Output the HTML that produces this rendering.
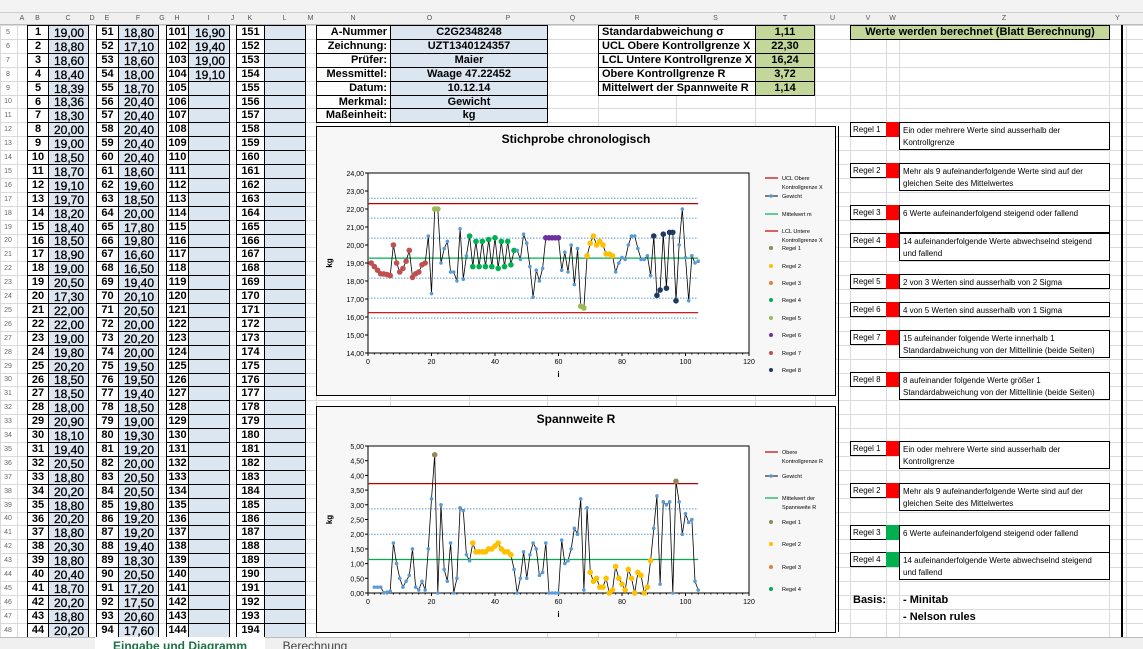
<!DOCTYPE html>
<html><head><meta charset="utf-8">
<style>
body{margin:0;width:1143px;height:649px;overflow:hidden;background:#fff;font-family:"Liberation Sans",sans-serif;position:relative}
.a{position:absolute;box-sizing:border-box}
.c{position:absolute;box-sizing:border-box;border:1px solid #000;font-weight:bold;font-size:12px;display:flex;align-items:center;justify-content:center;line-height:1}
.v{background:#dce6f1;justify-content:flex-end;padding-right:4px}
.hd{position:absolute;top:13px;height:12px;font-size:7px;color:#555;text-align:center;line-height:12px}
.rb{position:absolute;font-size:8px;border:1px solid #000;background:#fff;box-sizing:border-box;padding:2px 3px;line-height:12px}
</style></head><body>
<div class="a" style="left:0;top:0;width:1143px;height:13px;background:#f3f3f3;border-bottom:1px solid #ccc"></div>
<div class="a" style="left:0;top:13px;width:1143px;height:12px;background:#f0f0f0;border-bottom:1px solid #bbb"></div>
<svg class="a" id="grid" style="left:0;top:25px" width="1143" height="612"></svg>
<div id="cells"></div>
<svg class="a" id="c1" style="left:316px;top:126px" width="520" height="270"></svg>
<svg class="a" id="c2" style="left:316px;top:406px" width="520" height="227"></svg>
<div class="a" style="left:0;top:637px;width:1143px;height:12px;background:#f0f0f0;border-top:1px solid #bbb"></div>
<div class="a" style="left:95px;top:637px;width:170px;height:12px;background:#fff;color:#1e7145;font-weight:bold;font-size:12px;text-align:center;line-height:18px;overflow:hidden">Eingabe und Diagramm</div>
<div class="a" style="left:270px;top:637px;width:90px;height:12px;font-size:12px;text-align:center;line-height:18px;overflow:hidden;color:#444">Berechnung</div>
<script>
const weights=[19.00,18.80,18.60,18.40,18.39,18.36,18.30,20.00,19.00,18.50,18.70,19.10,19.70,18.20,18.40,18.50,18.90,19.00,20.50,17.30,22.00,22.00,19.00,19.80,20.20,18.50,18.50,18.00,20.90,18.10,19.40,20.50,18.80,20.20,18.80,20.20,18.80,20.30,18.80,20.40,18.70,20.20,18.80,20.20,18.90,19.70,19.70,19.20,20.60,20.10,
18.80,17.10,18.60,18.00,18.70,20.40,20.40,20.40,20.40,20.40,18.60,19.60,18.50,20.00,17.80,19.80,16.60,16.50,19.40,20.10,20.50,20.00,20.20,20.00,19.50,19.50,19.40,18.50,19.00,19.30,19.20,20.00,20.50,20.50,19.80,19.20,19.20,19.40,18.30,20.50,17.20,17.50,20.60,17.60,20.70,20.70,16.90,20.00,22.00,19.30,
16.90,19.40,19.00,19.10];
const ranges=[0.20,0.20,0.20,0.01,0.03,0.06,1.70,1.00,0.50,0.20,0.40,0.60,1.50,0.20,0.10,0.40,0.10,1.50,3.20,4.70,0,3.00,0.80,0.40,1.70,0,0.50,2.90,2.80,1.30,1.10,1.70,1.40,1.40,1.40,1.40,1.50,1.50,1.60,1.70,1.50,1.40,1.40,1.30,0.80,0,0.50,1.40,0.50,1.30,1.70,1.50,0.60,0.70,1.70,0,0,0,0,1.80,1.00,1.10,1.50,2.20,2.00,3.20,0.10,2.90,0.70,0.40,0.50,0.20,0.20,0.50,0,0.10,0.90,0.50,0.30,0.10,0.80,0.50,0,0.70,0.60,0,0.20,1.10,2.20,3.30,0.30,3.10,3.00,3.10,0,3.80,3.10,2.00,2.70,2.40,2.50,0.40,0.10];
const xRule7=[1,2,3,4,5,6,7,8,9,10,11,12,13,14,15,16,17,18];
const xRule5=[21,22,67,68];
const xRule4=[32,33,34,35,36,37,38,39,40,41,42,43,44,45,46];
const xRule6=[56,57,58,59,60];
const xRule2=[69,70,71,72,73,74,75,76,77];
const xRule8=[90,91,92,93,94,95,96,97];
const rRule1=[21,97];
const rRule2=[33,34,35,36,37,38,39,40,41,42,43,44,45,70,71,72,73,74,75,76,77,78,79,80,81,82,83,84,85,86,87,88,89];
const xLimits=[22.30,19.27,16.24];const xSigma=1.11;
const rLimits=[3.72,1.14];const rSigmaLines=[2.86,2.00];
const xTicks=[0,20,40,60,80,100,120];
const yTicks1=[14,15,16,17,18,19,20,21,22,23,24];
const yTicks2=[0,0.5,1,1.5,2,2.5,3,3.5,4,4.5,5];
const info=[["A-Nummer","C2G2348248"],["Zeichnung:","UZT1340124357"],["Prüfer:","Maier"],["Messmittel:","Waage 47.22452"],["Datum:","10.12.14"],["Merkmal:","Gewicht"],["Maßeinheit:","kg"]];
const stats=[["Standardabweichung σ","1,11"],["UCL Obere Kontrollgrenze X","22,30"],["LCL Untere Kontrollgrenze X","16,24"],["Obere Kontrollgrenze R","3,72"],["Mittelwert der Spannweite R","1,14"]];
const rules=["Ein oder mehrere Werte sind ausserhalb der Kontrollgrenze","Mehr als 9 aufeinanderfolgende Werte sind auf der gleichen Seite des Mittelwertes","6 Werte aufeinanderfolgend steigend oder fallend","14 aufeinanderfolgende Werte abwechselnd steigend und fallend","2 von 3 Werten sind ausserhalb von 2 Sigma","4 von 5 Werten sind ausserhalb von 1 Sigma","15 aufeinander folgende Werte innerhalb 1 Standardabweichung von der Mittellinie (beide Seiten)","8 aufeinander folgende Werte größer 1 Standardabweichung von der Mittellinie (beide Seiten)"];
const ruleY=[122,163,205,233,274,302,330,372];
const ruleY2=[441,483,525,552];
const ruleOk2=[false,false,true,true];

const NS="http://www.w3.org/2000/svg";
function S(p,t,a){const e=document.createElementNS(NS,t);for(const k in a)e.setAttribute(k,a[k]);p.appendChild(e);return e;}
const fmt=v=>v.toFixed(2).replace('.',',');
const top0=25,rh=13.9;
const RY=i=>Math.round(top0+i*rh);
const g=document.getElementById('grid');
const colX=[0,17,27,48,88,96,118,158,166,188,229,236,264,305,316,390,469,547,598,676,755,815,850,886,899,1109,1126,1143];
for(const x of colX){S(g,'line',{x1:x+0.5,x2:x+0.5,y1:0,y2:612,stroke:'#dadada'});}
for(let i=0;i<=44;i++){const y=RY(i)-top0+0.5;S(g,'line',{x1:0,x2:1143,y1:y,y2:y,stroke:'#dadada'});}
const cells=document.getElementById('cells');
function cell(x,y,w,h,txt,cls,name,inter,style){const d=document.createElement('div');d.className='c '+(cls||'');d.style.cssText=`left:${x}px;top:${y}px;width:${w}px;height:${h}px;`+(style||'');d.textContent=txt;


cells.appendChild(d);return d;}
const hdr=[["A",17,10],["B",27,21],["C",48,40],["D",88,8],["E",96,22],["F",118,40],["G",158,8],["H",166,22],["I",188,41],["J",229,7],["K",236,28],["L",264,41],["M",305,11],["N",316,74],["O",390,79],["P",469,78],["Q",547,51],["R",598,78],["S",676,79],["T",755,60],["U",815,35],["V",850,36],["W",886,13],["Z",899,210],["Y",1109,17]];
for(const h of hdr){const d=document.createElement('div');d.className='hd';d.style.left=h[1]+'px';d.style.width=h[2]+'px';d.textContent=h[0];


document.body.appendChild(d);}
for(let i=0;i<44;i++){const y=RY(i),h=RY(i+1)-y+1;
 const rn=document.createElement('div');rn.className='a';rn.style.cssText=`left:0;top:${y}px;width:16px;height:${h}px;font-size:7px;color:#666;line-height:${h}px;text-align:center`;rn.textContent=i+5;
 
 
 cells.appendChild(rn);
 const groups=[[27,21,48,40,i],[96,22,118,40,i+50],[166,22,188,41,i+100],[236,28,264,41,i+150]];
 for(const gg of groups){const idx=gg[4];
  cell(gg[0],y,gg[1]+1,h,String(idx+1),'','sample-number',false,'background:#fff;font-size:11px');
  const v=idx<weights.length?fmt(weights[idx]):'';
  cell(gg[2],y,gg[3]+1,h,v,'v','weight-input',true,'font-size:12px;font-weight:normal;-webkit-text-stroke:0.3px #000');}
}
info.forEach((r,i)=>{const y=RY(i),h=RY(i+1)-y+1;cell(316,y,75,h,r[0],'','info-label',false,'background:#fff;justify-content:flex-end;padding-right:3px;font-size:11px');cell(390,y,158,h,r[1],'','info-value',true,'background:#dce6f1;font-size:11px');});
stats.forEach((r,i)=>{const y=RY(i),h=RY(i+1)-y+1;cell(598,y,158,h,r[0],'','stat-label',false,'background:#fff;justify-content:flex-start;padding-left:3px;font-size:11px;white-space:nowrap;overflow:hidden');cell(755,y,60,h,r[1],'','stat-value',false,'background:#c4d79b;font-size:11px');});
cell(850,top0,260,15,'Werte werden berechnet (Blatt Berechnung)','','calc-note-header',false,'background:#c4d79b;font-size:11px');
function ruleBox(y,i,ok,nm){const tall=rules[i].length>45;const h=tall?28:15;
 cell(850,y,37,15,'Regel '+(i+1),'','rule-label-'+nm,false,'background:#fff;font-weight:normal;font-size:8px;justify-content:flex-start;padding-left:2px');
 cell(886,y,14,15,'','','rule-status-'+nm,false,'background:'+(ok?'#00b050':'#ff0000')+';border:none');
 const d=document.createElement('div');d.className='rb';d.style.cssText=`left:899px;top:${y}px;width:211px;height:${h}px`;d.textContent=rules[i];
 
 
 cells.appendChild(d);}
ruleY.forEach((y,i)=>ruleBox(y,i,false,'x'+(i+1)));
ruleY2.forEach((y,i)=>ruleBox(y,i,ruleOk2[i],'r'+(i+1)));
[["Basis:",853,596],["- Minitab",903,596],["- Nelson rules",903,613]].forEach(t=>{const d=document.createElement('div');d.className='a';d.style.cssText=`left:${t[1]}px;top:${t[2]-2}px;font-weight:bold;font-size:11px`;d.textContent=t[0];
 
 
 cells.appendChild(d);});
const vl=document.createElement('div');vl.className='a';vl.style.cssText='left:1121px;top:25px;width:2px;height:612px;background:#000';


cells.appendChild(vl);
const vl2=document.createElement('div');vl2.className='a';vl2.style.cssText='left:838px;top:126px;width:1px;height:506px;background:#000';


cells.appendChild(vl2);

const colors={1:'#8c8a5a',2:'#ffc000',3:'#ed7d31',4:'#00b050',5:'#9bbb59',6:'#7030a0',7:'#c0504d',8:'#1f3864'};
function chart(svg,title,ys,ymin,ymax,yt,px0,px1,py0,py1,vals,hlines,dlines,rulesets,legend){
 S(svg,'rect',{x:0.5,y:0.5,width:519,height:+svg.getAttribute('height')-1,fill:'#f7f7f7',stroke:'#000'});
 const t=S(svg,'text',{x:260,y:17,'text-anchor':'middle','font-size':12,'font-weight':'bold'});t.textContent=title;
 
 const X=v=>px0+(px1-px0)*v/120,Y=v=>py1-(py1-py0)*(v-ymin)/(ymax-ymin);
 S(svg,'rect',{x:px0,y:py0,width:px1-px0,height:py1-py0,fill:'#fff',stroke:'#000'});
 for(const v of yt){S(svg,'line',{x1:px0-3,x2:px0,y1:Y(v),y2:Y(v),stroke:'#000'});const tx=S(svg,'text',{x:px0-4,y:Y(v)+3,'text-anchor':'end','font-size':7});tx.textContent=v.toFixed(2).replace('.',',');}
 for(const v of xTicks){S(svg,'line',{x1:X(v),x2:X(v),y1:py1,y2:py1+3,stroke:'#000'});const tx=S(svg,'text',{x:X(v),y:py1+11,'text-anchor':'middle','font-size':7});tx.textContent=v;}
 for(let v=0;v<=120;v+=2){S(svg,'line',{x1:X(v),x2:X(v),y1:py1,y2:py1+1.5,stroke:'#000'});}
 const xl=S(svg,'text',{x:(px0+px1)/2,y:py1+24,'text-anchor':'middle','font-size':8,'font-weight':'bold'});xl.textContent='i';
 const yl=S(svg,'text',{x:16,y:(py0+py1)/2,'text-anchor':'middle','font-size':8,'font-weight':'bold',transform:`rotate(-90 16 ${(py0+py1)/2})`});yl.textContent='kg';
 const n=vals.length;const xs0=ys;
 for(const d of dlines){S(svg,'line',{x1:px0,x2:X(xs0+n-1),y1:Y(d),y2:Y(d),stroke:'#5b9bd5','stroke-dasharray':'1.5 1.5','stroke-width':1});}
 for(const h of hlines){S(svg,'line',{x1:px0,x2:X(xs0+n-1),y1:Y(h[0]),y2:Y(h[0]),stroke:h[1],'stroke-width':1.2});}
 const pts=vals.map((v,i)=>X(xs0+i).toFixed(1)+','+Y(v).toFixed(1)).join(' ');
 const pl=S(svg,'polyline',{points:pts,fill:'none',stroke:'#000','stroke-width':0.8});
 
 vals.forEach((v,i)=>{const idx=xs0+i;let col='#5b9bd5',r=1.8;
  for(const rs of rulesets){if(rs[1].includes(idx)){col=colors[rs[0]];r=2.8;}}
  const c=S(svg,'circle',{cx:X(idx),cy:Y(v),r:r,fill:col});
  
  
 });
 legend.forEach(l=>{const g=S(svg,'g',{});
  if(l[0]==='line'){S(g,'line',{x1:449,x2:462,y1:l[3],y2:l[3],stroke:l[1],'stroke-width':1.2});}
  else if(l[0]==='ser'){S(g,'line',{x1:449,x2:462,y1:l[3],y2:l[3],stroke:'#000'});S(g,'circle',{cx:455,cy:l[3],r:1.8,fill:'#5b9bd5'});}
  else{S(g,'circle',{cx:455,cy:l[3],r:2,fill:l[1]});}
  l[2].split('|').forEach((s,j)=>{const tx=S(g,'text',{x:466,y:l[3]+2+j*9,'font-size':5.5});tx.textContent=s;});
 });
}
const c1=document.getElementById('c1');
chart(c1,'Stichprobe chronologisch',1,14,24,yTicks1,52,433,47,227,weights,
 [[xLimits[0],'#c00000'],[xLimits[1],'#00b050'],[xLimits[2],'#c00000']],
 [xLimits[1]+xSigma,xLimits[1]+2*xSigma,xLimits[1]+3*xSigma,xLimits[1]-xSigma,xLimits[1]-2*xSigma,xLimits[1]-3*xSigma],
 [[7,xRule7],[5,xRule5],[4,xRule4],[6,xRule6],[2,xRule2],[8,xRule8]],
 [['line','#c00000','UCL Obere|Kontrollgrenze X',52],['ser','','Gewicht',70],['line','#00b050','Mittelwert m',88],['line','#c00000','LCL Untere|Kontrollgrenze X',105],
  ['dot',colors[1],'Regel 1',122],['dot',colors[2],'Regel 2',140],['dot',colors[3],'Regel 3',157],['dot',colors[4],'Regel 4',174],['dot',colors[5],'Regel 5',192],['dot',colors[6],'Regel 6',209],['dot',colors[7],'Regel 7',227],['dot',colors[8],'Regel 8',244]]);
const c2=document.getElementById('c2');
chart(c2,'Spannweite R',2,0,5,yTicks2,52,433,40,187,ranges,
 [[rLimits[0],'#c00000'],[rLimits[1],'#00b050']],rSigmaLines,
 [[2,rRule2],[1,rRule1]],
 [['line','#c00000','Obere|Kontrollgrenze R',46],['ser','','Gewicht',70],['line','#00b050','Mittelwert der|Spannweite R',92],
  ['dot',colors[1],'Regel 1',116],['dot',colors[2],'Regel 2',138],['dot',colors[3],'Regel 3',161],['dot',colors[4],'Regel 4',183]]);
</script>
</body></html>
